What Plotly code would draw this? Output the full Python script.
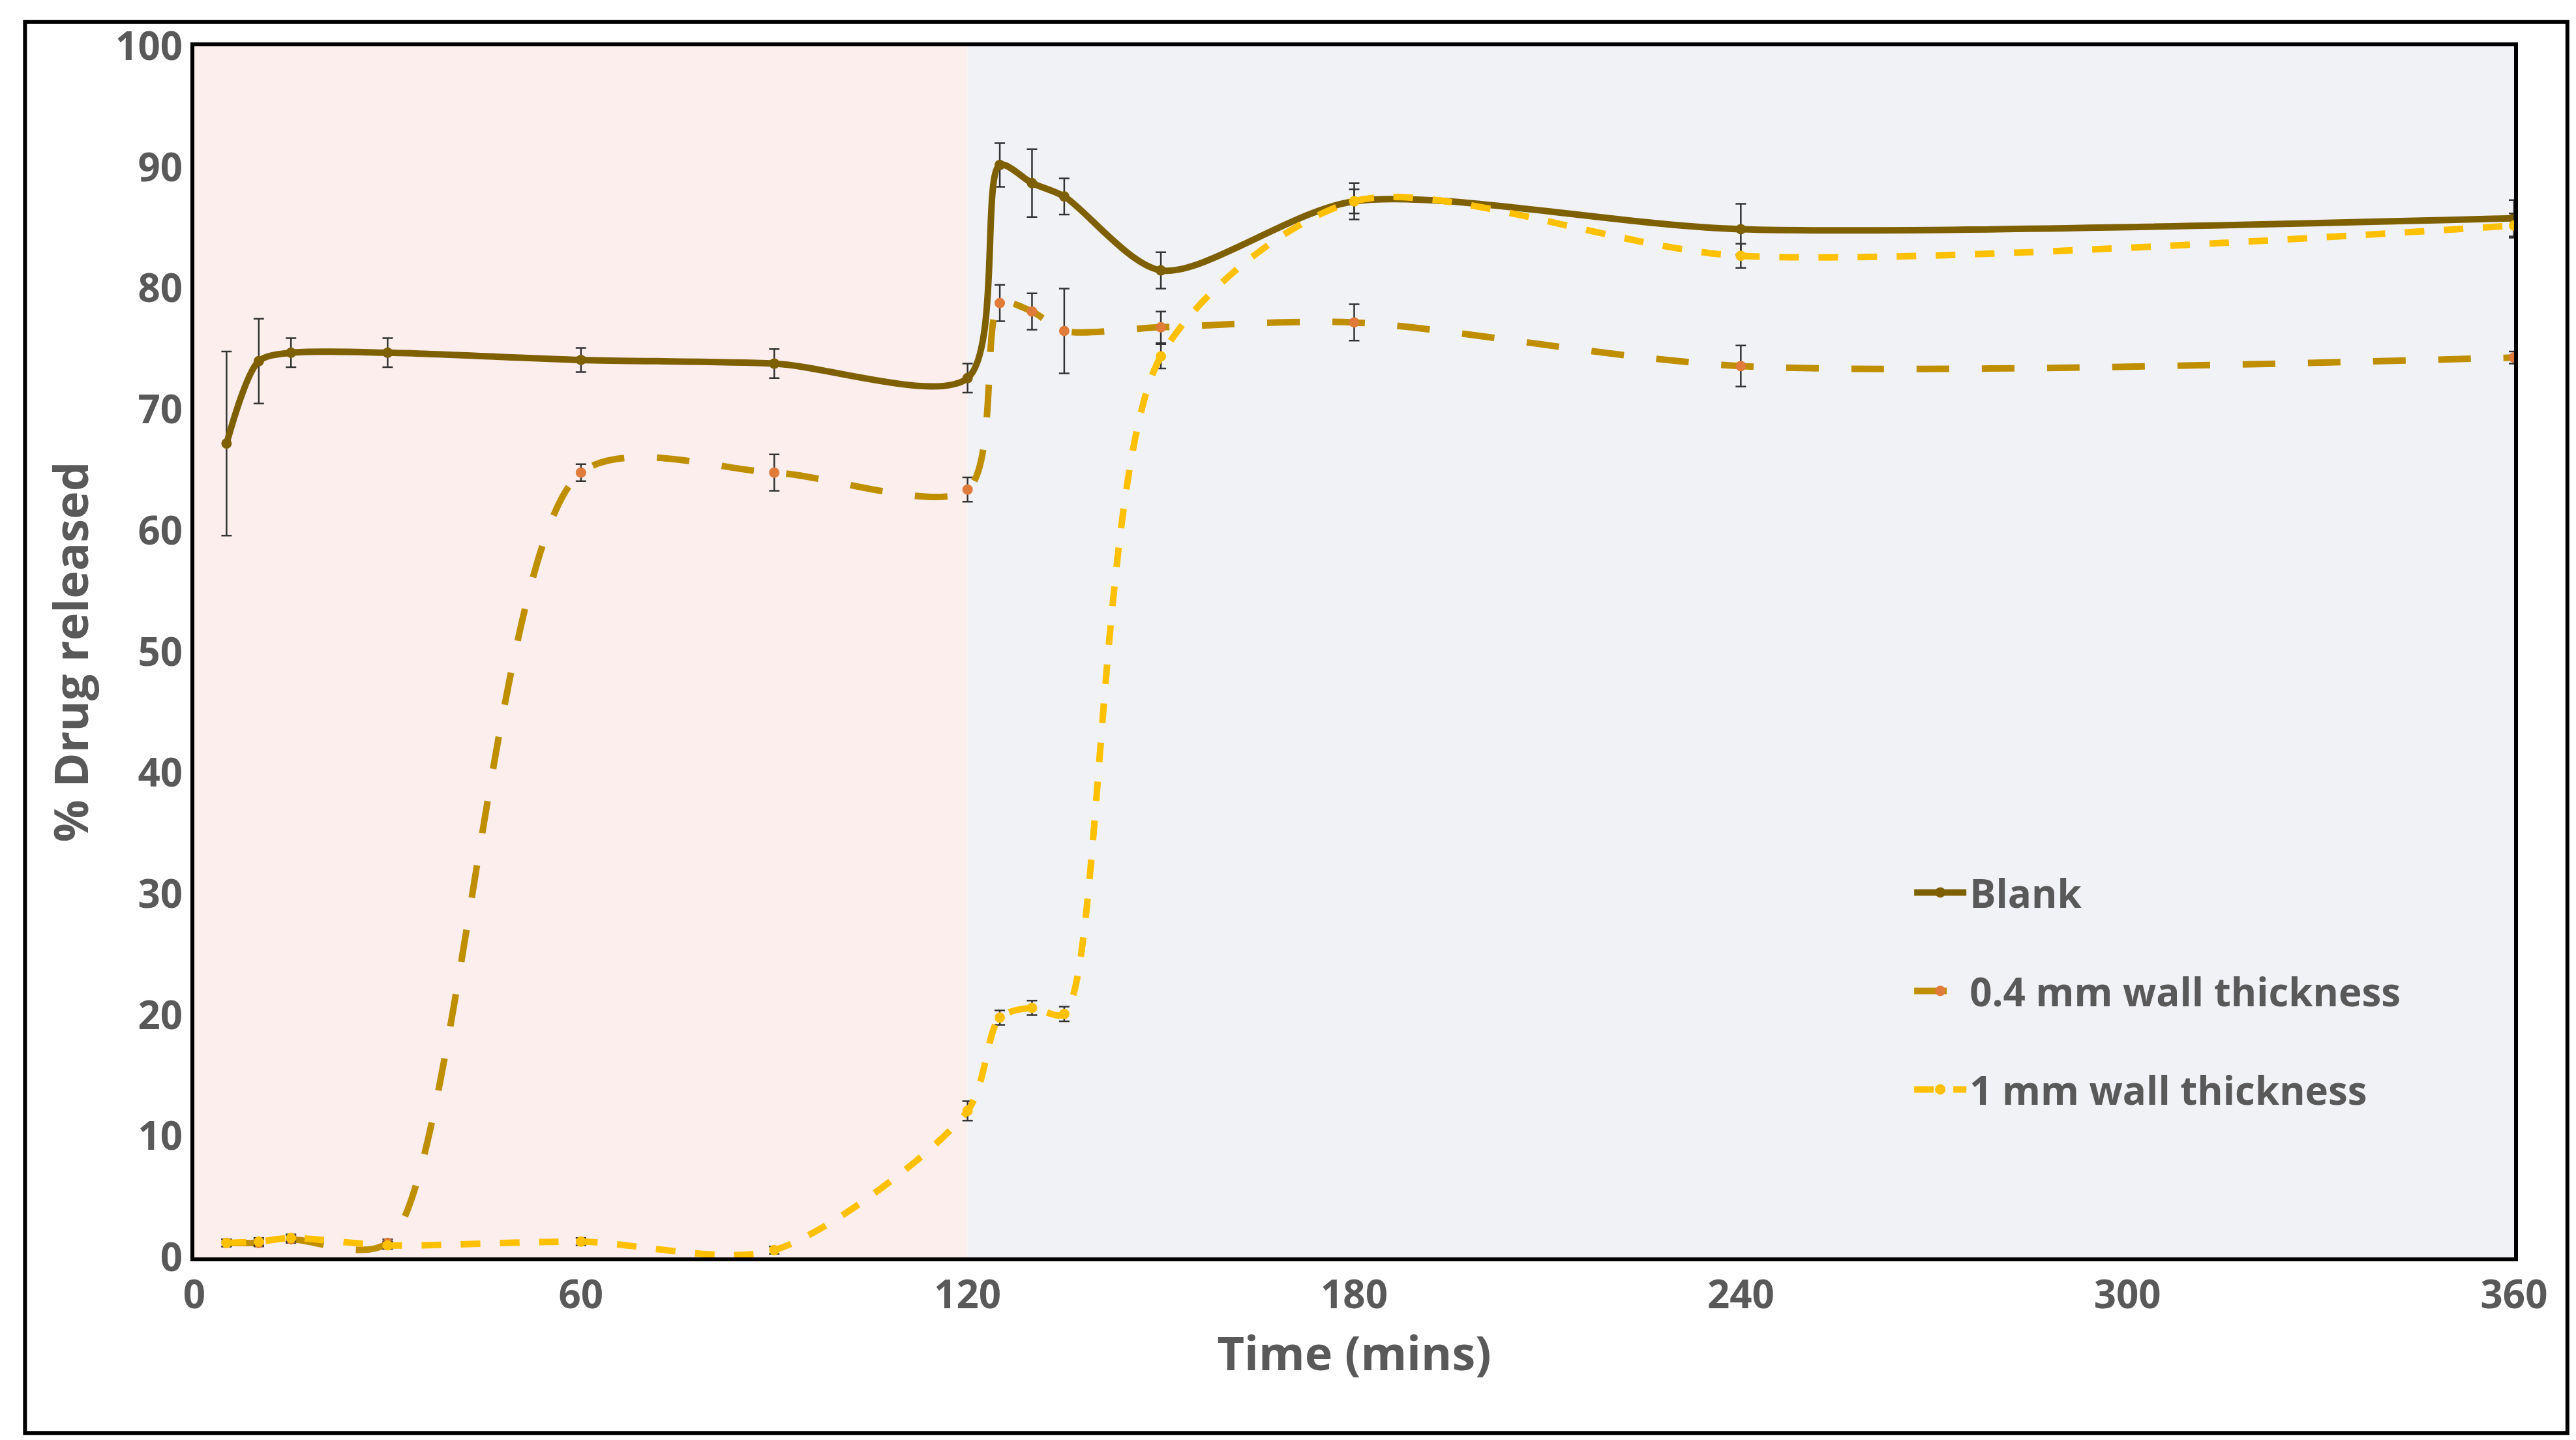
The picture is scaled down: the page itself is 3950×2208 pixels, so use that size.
import plotly.graph_objects as go

time = [5, 10, 15, 30, 60, 90, 120, 125, 130, 135, 150, 180, 240, 360]
blank = [67.2, 74.0, 74.7, 74.7, 74.1, 73.8, 72.6, 90.2, 88.7, 87.6, 81.5, 87.2, 84.9, 85.8]
blank_err = [7.6, 3.5, 1.2, 1.2, 1.0, 1.2, 1.2, 1.8, 2.8, 1.5, 1.5, 1.5, 2.1, 1.5]
w04 = [1.2, 1.2, 1.5, 1.2, 64.8, 64.8, 63.4, 78.8, 78.1, 76.5, 76.8, 77.2, 73.6, 74.3]
w04_err = [0.3, 0.3, 0.3, 0.3, 0.7, 1.5, 1.0, 1.5, 1.5, 3.5, 1.3, 1.5, 1.7, 0.5]
w1 = [1.2, 1.3, 1.6, 1.0, 1.3, 0.6, 12.1, 19.8, 20.6, 20.1, 74.4, 87.2, 82.7, 85.2]
w1_err = [0.3, 0.3, 0.3, 0.3, 0.3, 0.3, 0.8, 0.6, 0.6, 0.6, 1.0, 1.0, 1.0, 1.0]
xticks = [0, 60, 120, 180, 240, 300, 360]
yticks = list(range(0, 101, 10))

fig = go.Figure()
series = [
    ("Blank", blank, blank_err, "#7F6000", "#7F6000", "solid"),
    ("0.4 mm wall thickness", w04, w04_err, "#BF8F00", "#E07B39", "longdash"),
    ("1 mm wall thickness", w1, w1_err, "#FFC000", "#FFC000", "dash"),
]
for i, (name, y, e, c, mc, dash) in enumerate(series):
    fig.add_trace(go.Scatter(
        x=time, y=y, name=name, mode="lines+markers", legendgroup=f"g{i}",
        line=dict(color=c, width=10, dash=dash, shape="spline", smoothing=0.8),
        marker=dict(color=mc, size=16),
        error_y=dict(type="data", array=e, color="#333333", thickness=2.5, width=8),
    ))

fig.add_shape(type="rect", xref="x", yref="paper", x0=0, x1=120, y0=0, y1=1,
              fillcolor="#FDEEEE", line_width=0, layer="below")
fig.add_shape(type="rect", xref="x", yref="paper", x0=120, x1=360, y0=0, y1=1,
              fillcolor="#F1F2F6", line_width=0, layer="below")
fig.add_shape(type="rect", xref="paper", yref="paper", x0=-0.073, x1=1.023, y0=-0.145, y1=1.02,
              line=dict(color="black", width=6), fillcolor="rgba(0,0,0,0)")

fig.update_layout(
    width=3950, height=2208, paper_bgcolor="white", plot_bgcolor="white",
    margin=dict(l=290, r=103, t=63, b=288),
    font=dict(family="Open Sans", size=60, color="#595959", weight=700), showlegend=True,
    legend=dict(x=0.74, y=0.22, xanchor="left", yanchor="middle", bgcolor="rgba(0,0,0,0)",
                font=dict(family="Open Sans", size=60, color="#595959", weight=700),
                tracegroupgap=70, itemwidth=80),
    xaxis=dict(range=[0, 360], tickvals=xticks, title=dict(text="Time (mins)", standoff=0),
               tickfont=dict(size=60, weight=700), showgrid=False, zeroline=False,
               showline=True, mirror=True, linecolor="black", linewidth=6, ticks=""),
    yaxis=dict(range=[0, 100], tickvals=yticks, title=dict(text="% Drug released", standoff=20),
               tickfont=dict(size=60, weight=700), showgrid=False, zeroline=False,
               showline=True, mirror=True, linecolor="black", linewidth=6, ticks=""),
)
fig.write_html("out.html")
